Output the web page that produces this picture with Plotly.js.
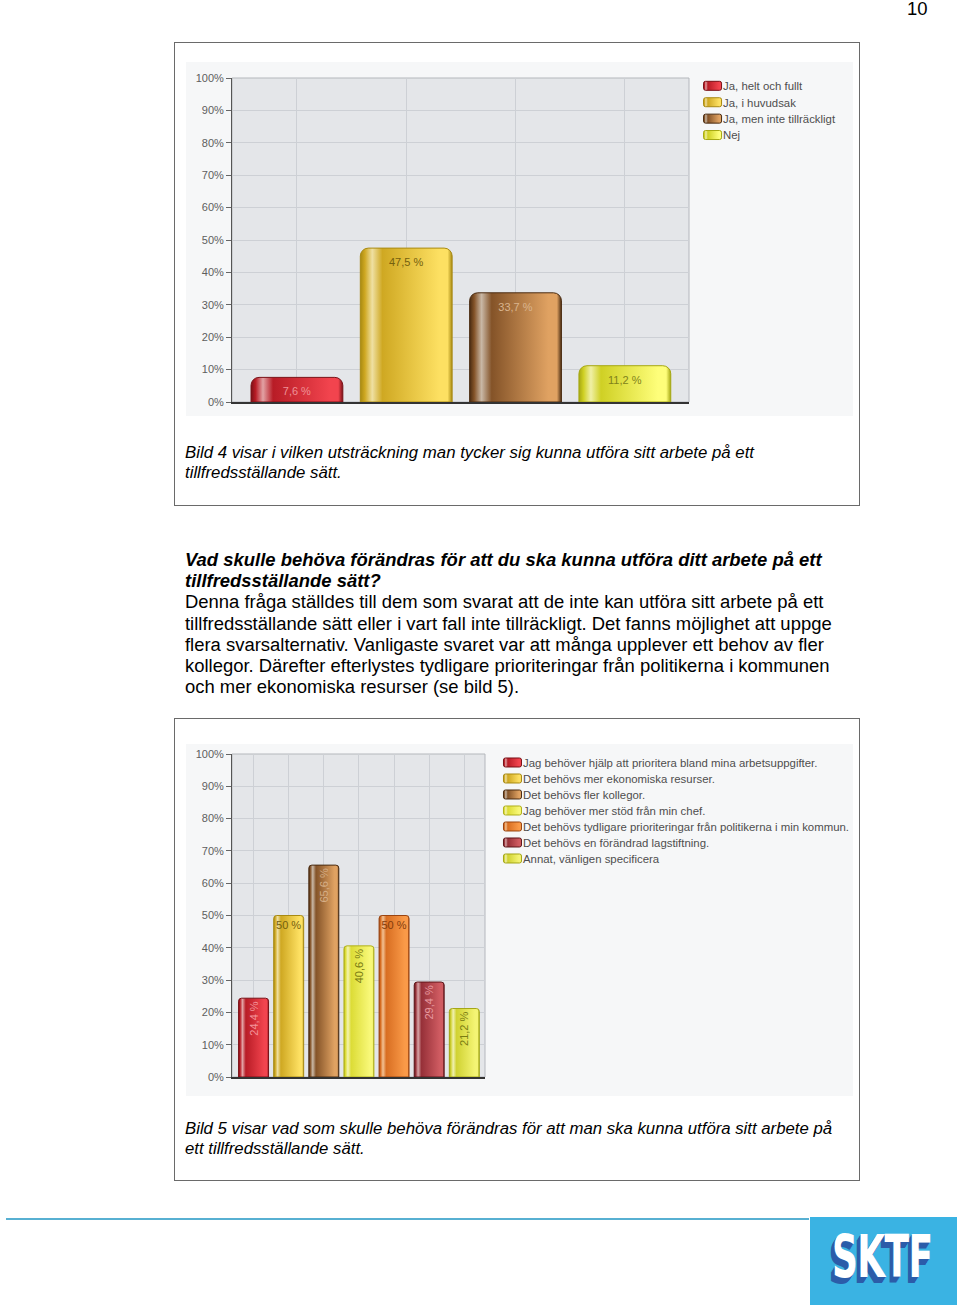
<!DOCTYPE html>
<html><head><meta charset="utf-8">
<script src="https://cdn.plot.ly/plotly-3.0.1.min.js"></script>
<style>
html,body{margin:0;padding:0;background:#fff;}
body{width:960px;height:1307px;position:relative;overflow:hidden;font-family:'Liberation Sans',Arial,sans-serif;color:#000;}
.abs{position:absolute;}
.box{position:absolute;border:1px solid #6a6a6a;box-sizing:border-box;background:#fff;}
.txt{position:absolute;white-space:nowrap;}
</style></head>
<body>
<div class="txt" style="left:907px;top:0px;font-size:18.5px;line-height:18px;">10</div>

<div class="box" style="left:174px;top:42px;width:686px;height:464px;"></div>
<div class="abs" style="left:186px;top:62px;width:667px;height:354px;background:#f6f7f8;"></div>
<div id="chart1" class="abs" style="left:156px;top:42px;width:740px;height:390px;"></div>
<div class="txt" style="left:185px;top:443px;font-size:16.8px;line-height:20px;font-style:italic;">Bild 4 visar i vilken utsträckning man tycker sig kunna utföra sitt arbete på ett<br>tillfredsställande sätt.</div>

<div class="txt" style="left:185px;top:549px;font-size:18.45px;line-height:21.2px;"><b><i>Vad skulle behöva förändras för att du ska kunna utföra ditt arbete på ett<br>tillfredsställande sätt?</i></b><br>Denna fråga ställdes till dem som svarat att de inte kan utföra sitt arbete på ett<br>tillfredsställande sätt eller i vart fall inte tillräckligt. Det fanns möjlighet att uppge<br>flera svarsalternativ. Vanligaste svaret var att många upplever ett behov av fler<br>kollegor. Därefter efterlystes tydligare prioriteringar från politikerna i kommunen<br>och mer ekonomiska resurser (se bild 5).</div>

<div class="box" style="left:174px;top:718px;width:686px;height:463px;"></div>
<div class="abs" style="left:186px;top:744px;width:667px;height:352px;background:#f6f7f8;"></div>
<div id="chart2" class="abs" style="left:156px;top:724px;width:740px;height:390px;"></div>
<div class="txt" style="left:185px;top:1119px;font-size:16.75px;line-height:19.5px;font-style:italic;">Bild 5 visar vad som skulle behöva förändras för att man ska kunna utföra sitt arbete på<br>ett tillfredsställande sätt.</div>

<div class="abs" style="left:6px;top:1218px;width:803px;height:2px;background:#57b0d2;"></div>
<div class="abs" style="left:810px;top:1217px;width:147px;height:88px;background:#3ab3e3;overflow:hidden;">
  <div class="txt" style="left:22px;top:11px;font-family:'DejaVu Sans',sans-serif;font-weight:bold;font-size:58px;line-height:58px;color:#fff;transform:scaleX(0.62);transform-origin:0 0;letter-spacing:-1px;text-shadow:-1px 1px 0 #2b5ca9,-2px 2px 0 #2b5ca9,-3px 3px 0 #2b5ca9,-4px 4px 0 #2b5ca9,-5px 5px 0 #2b5ca9,-6px 6px 0 #2b5ca9;">SKTF</div>
</div>

<script>
// ---------- DATA ----------
const categories1 = ['Ja, helt och fullt', 'Ja, i huvudsak', 'Ja, men inte tillräckligt', 'Nej'];
const values1 = [7.6, 47.5, 33.7, 11.2];

const categories2 = [
  'Jag behöver hjälp att prioritera bland mina arbetsuppgifter.',
  'Det behövs mer ekonomiska resurser.',
  'Det behövs fler kollegor.',
  'Jag behöver mer stöd från min chef.',
  'Det behövs tydligare prioriteringar från politikerna i min kommun.',
  'Det behövs en förändrad lagstiftning.',
  'Annat, vänligen specificera'
];
const values2 = [24.4, 50, 65.6, 40.6, 50, 29.4, 21.2];

const yTickVals = [0, 10, 20, 30, 40, 50, 60, 70, 80, 90, 100];
const yTickText = ['0%', '10%', '20%', '30%', '40%', '50%', '60%', '70%', '80%', '90%', '100%'];

// ---------- STYLES ----------
// palette: [dark, highlight, mid, bright]
const RED = ['#7a1016', '#e2a2a4', '#b81c26', '#f2444e'];
const GOLD = ['#a88a12', '#efe0a2', '#cfa822', '#fde062'];
const BROWN = ['#4a2c12', '#c9b8a6', '#845328', '#e0a262'];
const YEL1 = ['#a6a812', '#f0f0a6', '#cfd024', '#fefe7a'];
const YEL2 = ['#b0b01c', '#f4f4b2', '#dcdc36', '#f8f878'];
const ORANGE = ['#9a4410', '#f2c294', '#d86e22', '#fa9a48'];
const DKRED = ['#5e161a', '#d8a6a8', '#963038', '#d05c62'];
const YGRN = ['#a4a616', '#f0f0b0', '#d0d232', '#f4f474'];

const pal1 = [RED, GOLD, BROWN, YEL1];
const labelColors1 = ['#ee9296', '#74600e', '#d9b48e', '#80821a'];
const pal2 = [RED, GOLD, BROWN, YEL2, ORANGE, DKRED, YGRN];
const labelColors2 = ['#f4949a', '#74600e', '#d6ae86', '#7a7c12', '#843c0c', '#e89aa0', '#7a7c12'];
const labelAngles2 = [-90, 0, -90, -90, 0, -90, -90];

const FONT = 'Liberation Sans, Arial, sans-serif';
const fmt = v => (Number.isInteger(v) ? String(v) : v.toFixed(1).replace('.', ',')) + ' %';

function makeTraces(cats, vals, pal, lblColors, angles, width, radius) {
  return cats.map((name, i) => ({
    type: 'bar',
    name: name,
    x: [i],
    y: [vals[i]],
    width: width,
    text: [fmt(vals[i])],
    textposition: 'inside',
    insidetextanchor: 'end',
    textangle: angles ? angles[i] : 0,
    textfont: {family: FONT, size: 11, color: lblColors[i]},
    marker: {color: pal[i][2], line: {color: pal[i][0], width: 1}, cornerradius: radius},
    hoverinfo: 'skip'
  }));
}

function makeLayout(w, h, margin, xRange, nCats, legX, legY) {
  const grid = '#cdd0d5';
  return {
    width: w, height: h, margin: margin,
    paper_bgcolor: 'rgba(0,0,0,0)', plot_bgcolor: '#e4e6e9',
    barmode: 'overlay', showlegend: true, hovermode: false,
    font: {family: FONT},
    uniformtext: {mode: 'show', minsize: 11},
    legend: {x: legX, y: legY, xref: 'paper', yref: 'paper', xanchor: 'left', yanchor: 'top',
             bgcolor: 'rgba(0,0,0,0)', borderwidth: 0, tracegroupgap: 0,
             font: {family: FONT, size: 11.4, color: '#4e4e4e'}},
    xaxis: {range: xRange, tickvals: Array.from({length: nCats}, (_, i) => i), showticklabels: false,
            ticks: '', showgrid: true, gridcolor: grid, gridwidth: 1, zeroline: false,
            showline: true, linecolor: '#333', linewidth: 1.5, fixedrange: true, automargin: false},
    yaxis: {range: [0, 100], tickvals: yTickVals, ticktext: yTickText, ticks: 'outside', ticklen: 5,
            tickcolor: '#666', tickfont: {family: FONT, size: 11, color: '#5e5e5e'},
            showgrid: true, gridcolor: grid, gridwidth: 1, zeroline: false,
            showline: true, linecolor: '#555', linewidth: 1, fixedrange: true, automargin: false},
    shapes: [{type: 'rect', xref: 'paper', yref: 'paper', x0: 0, x1: 1, y0: 0, y1: 1,
              line: {color: '#b4b7bc', width: 1}, layer: 'below'}]
  };
}

function applyGradients(gd, pal, prefix) {
  const ns = 'http://www.w3.org/2000/svg';
  const svg = gd.querySelector('svg.main-svg');
  if (!svg) return;
  let defs = svg.querySelector('defs');
  if (!defs) { defs = document.createElementNS(ns, 'defs'); svg.insertBefore(defs, svg.firstChild); }
  pal.forEach((p, i) => {
    const g = document.createElementNS(ns, 'linearGradient');
    g.setAttribute('id', prefix + i);
    g.setAttribute('x1', '0'); g.setAttribute('y1', '0'); g.setAttribute('x2', '1'); g.setAttribute('y2', '0');
    [[0, p[0]], [0.05, p[2]], [0.13, p[1]], [0.24, p[2]], [0.86, p[3]], [0.95, p[3]], [1, p[0]]].forEach(s => {
      const st = document.createElementNS(ns, 'stop');
      st.setAttribute('offset', s[0]); st.setAttribute('stop-color', s[1]);
      g.appendChild(st);
    });
    defs.appendChild(g);
  });
  gd.querySelectorAll('.barlayer .trace').forEach((t, i) => {
    t.querySelectorAll('path').forEach(p => { p.style.fill = 'url(#' + prefix + i + ')'; });
  });
  gd.querySelectorAll('.legend .traces').forEach((t, i) => {
    const p = t.querySelector('.legendpoints path');
    if (p) {
      p.setAttribute('d', 'M-7,-4.5H7A2,2 0 0 1 9,-2.5V2.5A2,2 0 0 1 7,4.5H-7A2,2 0 0 1 -9,2.5V-2.5A2,2 0 0 1 -7,-4.5Z');
      p.setAttribute('transform', 'translate(29.5,0)');
      p.style.fill = 'url(#' + prefix + i + ')';
      p.style.stroke = pal[i][0];
      p.style.strokeWidth = '1px';
    }
  });
}

// tighten the legend rows to the reference's row pitch
function compressLegend(gd, spacing) {
  let y0 = null;
  gd.querySelectorAll('.legend .traces').forEach((t, i) => {
    const tr = t.getAttribute('transform') || '';
    const m = tr.match(/translate\(\s*([-\d.e]+)[ ,]+([-\d.e]+)\s*\)/);
    if (!m) return;
    const x = parseFloat(m[1]), y = parseFloat(m[2]);
    if (y0 === null) y0 = y;
    t.setAttribute('transform', 'translate(' + x + ',' + (y0 + i * spacing) + ')');
  });
}

const cfg = {staticPlot: true, displayModeBar: false};

// chart 1: plot area 231.7..689 x 77.7..402.3 (page px); legend box top-left at (683, 71)
Plotly.newPlot('chart1',
  makeTraces(categories1, values1, pal1, labelColors1, null, 0.84, 8),
  makeLayout(740, 390, {l: 75.7, r: 207, t: 35.7, b: 29.7, pad: 0}, [-0.594, 3.587], 4, 0.987, 1.0206),
  cfg).then(gd => { applyGradients(gd, pal1, 'ga'); compressLegend(gd, 16.4); });

// chart 2: plot area 231.7..485 x 754..1077.3; legend box top-left at (483, 748)
Plotly.newPlot('chart2',
  makeTraces(categories2, values2, pal2, labelColors2, labelAngles2, 0.853, 3),
  makeLayout(740, 390, {l: 75.7, r: 411, t: 30, b: 36.7, pad: 0}, [-0.614, 6.589], 7, 0.992, 1.0186),
  cfg).then(gd => { applyGradients(gd, pal2, 'gb'); compressLegend(gd, 16.0); });
</script>
</body></html>
